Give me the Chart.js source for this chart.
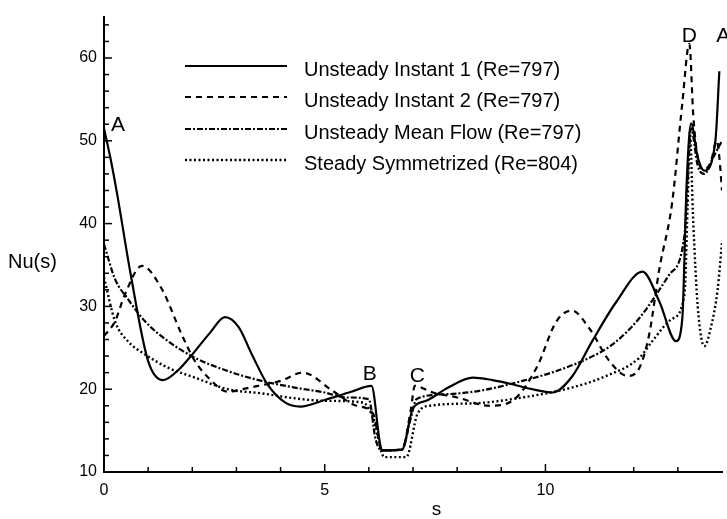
<!DOCTYPE html>
<html>
<head>
<meta charset="utf-8">
<script src="https://cdn.jsdelivr.net/npm/chart.js@4/dist/chart.umd.min.js"></script>
<style>
    html, body { margin: 0; padding: 0; background: #fff; }
    #wrap { width: 727px; height: 519px; }
</style>
</head>
<body>
<div id="wrap"><canvas id="nu-chart" width="727" height="519"></canvas></div>
<script>
// Nu(s) along the surface, four flow cases
const sInst1 = [0, 0.15, 0.3, 0.6, 1.0, 1.34, 1.7, 2.0, 2.4, 2.74, 3.05, 3.35, 3.7, 4.1, 4.45, 5.0, 5.6, 6.06, 6.25, 6.3, 6.75, 7.0, 7.3, 7.8, 8.35, 8.8, 9.25, 9.7, 10.16, 10.6, 11.06, 11.6, 12.2, 12.58, 12.96, 13.1, 13.2, 13.3, 13.45, 13.6, 13.85, 13.94];
const nuInst1 = [51.5, 47.8, 43.5, 34, 23.4, 21.1, 22.4, 24.2, 26.8, 28.7, 27.5, 24.2, 20.6, 18.4, 17.9, 18.7, 19.7, 20.4, 13.5, 12.6, 12.7, 17.7, 18.6, 20.2, 21.4, 21.1, 20.6, 20.0, 19.6, 21.5, 25.8, 30.5, 34.2, 30.6, 25.8, 28.5, 45, 52.1, 48, 46.4, 50, 58.4];

const sInst2 = [0, 0.25, 0.47, 0.86, 1.31, 1.76, 2.06, 2.4, 2.8, 3.3, 4.0, 4.5, 5.18, 5.72, 6.1, 6.25, 6.3, 6.75, 6.95, 7.04, 7.45, 8.0, 8.73, 9.25, 9.8, 10.25, 10.6, 11.0, 11.45, 11.86, 12.13, 12.35, 12.58, 12.87, 13.1, 13.26, 13.35, 13.45, 13.6, 13.75, 13.88, 13.94, 14.0];
const nuInst2 = [26.4, 28.2, 31.4, 34.9, 32.1, 26.6, 23.4, 21.2, 19.7, 20.2, 21.0, 22, 19.8, 18, 17, 13.2, 12.6, 12.7, 17.5, 20.4, 19.6, 19.0, 18.0, 18.6, 22.6, 28.2, 29.5, 27.3, 23.4, 21.6, 22.6, 26.6, 34.5, 42.5, 54.5, 61.7, 53, 48, 46.5, 47.5, 50, 48, 44];

const sMean = [0, 0.25, 0.54, 0.93, 1.45, 2.06, 2.8, 3.57, 4.32, 5.0, 5.5, 6.0, 6.15, 6.3, 6.75, 6.95, 7.08, 7.76, 8.5, 9.48, 10.25, 11.0, 11.52, 12.13, 12.8, 13.15, 13.22, 13.3, 13.45, 13.6, 13.8, 14.0];
const nuMean = [37.5, 33.3, 30.9, 28.2, 25.8, 23.8, 22.2, 21, 20.2, 19.6, 19, 18.8, 14, 12.6, 12.7, 16.5, 18.8, 19.4, 19.8, 21, 22.2, 23.8, 25.4, 28.6, 33.8, 38.6, 45, 51.5, 47, 46, 48, 50];

const sSteady = [0, 0.25, 0.54, 0.93, 1.45, 2.06, 2.8, 3.57, 4.32, 5.0, 5.86, 6.1, 6.35, 6.85, 7.1, 7.38, 8.4, 9.48, 10.6, 11.38, 12.13, 12.42, 12.87, 13.15, 13.22, 13.27, 13.35, 13.45, 13.6, 13.75, 13.9, 14.0];
const nuSteady = [33.5, 28.2, 25.8, 24.2, 22.6, 21.4, 20, 19.5, 18.9, 18.6, 18.4, 16.5, 11.8, 11.8, 17, 18, 18.3, 19, 20.2, 21.6, 23.8, 25.8, 28.5, 31.5, 42, 51, 40, 30, 25.2, 27.5, 32, 37.7];

const seriesNames = [
    'Unsteady Instant 1 (Re=797)',
    'Unsteady Instant 2 (Re=797)',
    'Unsteady Mean Flow (Re=797)',
    'Steady Symmetrized (Re=804)'
];
const seriesDash = [[], [6, 5], [6, 2, 2, 2], [2, 2.5]];
const seriesWidth = [2.2, 2.2, 2.2, 2.4];

const xTicks = [0, 5, 10];
const xMinor = [1, 2, 3, 4, 6, 7, 8, 9, 11, 12, 13];
const yTicks = [10, 20, 30, 40, 50, 60];
const yMinor = [12, 14, 16, 18, 22, 24, 26, 28, 32, 34, 36, 38, 42, 44, 46, 48, 52, 54, 56, 58, 62, 64];

// point labels A, B, C, D, A
const markLetters = ['A', 'B', 'C', 'D', 'A'];
const markS = [0.32, 6.02, 7.1, 13.26, 14.03];
const markNu = [51.9, 21.8, 21.6, 62.6, 62.6];

const FONT = '"Liberation Sans", Arial, Helvetica, sans-serif';

function toPoints(xs, ys) {
    return xs.map((x, i) => ({ x: x, y: ys[i] }));
}

const curves = [
    toPoints(sInst1, nuInst1),
    toPoints(sInst2, nuInst2),
    toPoints(sMean, nuMean),
    toPoints(sSteady, nuSteady)
];

const decorPlugin = {
    id: 'decor',
    afterDraw(chart) {
        const ctx = chart.ctx;
        const xs = chart.scales.x;
        const ys = chart.scales.y;
        const area = chart.chartArea;
        ctx.save();
        ctx.strokeStyle = '#000';
        ctx.lineWidth = 1.5;
        ctx.setLineDash([]);

        // ticks pointing inward
        const tick = (x1, y1, x2, y2) => {
            ctx.beginPath();
            ctx.moveTo(x1, y1);
            ctx.lineTo(x2, y2);
            ctx.stroke();
        };
        xTicks.forEach(v => { const p = xs.getPixelForValue(v); tick(p, area.bottom, p, area.bottom - 8); });
        xMinor.forEach(v => { const p = xs.getPixelForValue(v); tick(p, area.bottom, p, area.bottom - 5); });
        yTicks.forEach(v => { const p = ys.getPixelForValue(v); tick(area.left, p, area.left + 8, p); });
        yMinor.forEach(v => { const p = ys.getPixelForValue(v); tick(area.left, p, area.left + 5, p); });

        // axis titles
        ctx.fillStyle = '#000';
        ctx.font = '20px ' + FONT;
        ctx.textAlign = 'left';
        ctx.textBaseline = 'middle';
        ctx.fillText('Nu(s)', 8, 262);
        ctx.textAlign = 'center';
        ctx.font = '19px ' + FONT;
        ctx.fillText('s', xs.getPixelForValue(7.53), 510);

        // letters
        ctx.font = '21px ' + FONT;
        markLetters.forEach((t, i) => {
            ctx.fillText(t, xs.getPixelForValue(markS[i]), ys.getPixelForValue(markNu[i]));
        });

        // legend
        const lx0 = 185, lx1 = 287, tx = 304;
        const rowY = [66, 97, 129, 160];
        ctx.font = '20px ' + FONT;
        ctx.textAlign = 'left';
        ctx.textBaseline = 'alphabetic';
        seriesNames.forEach((name, i) => {
            ctx.lineWidth = seriesWidth[i];
            ctx.setLineDash(seriesDash[i]);
            ctx.beginPath();
            ctx.moveTo(lx0, rowY[i]);
            ctx.lineTo(lx1, rowY[i]);
            ctx.stroke();
            ctx.setLineDash([]);
            ctx.fillText(name, tx, rowY[i] + 10);
        });
        ctx.restore();
    }
};

new Chart(document.getElementById('nu-chart'), {
    type: 'line',
    data: {
        datasets: curves.map((pts, i) => ({
            label: seriesNames[i],
            data: pts,
            borderColor: '#000',
            borderWidth: seriesWidth[i],
            borderDash: seriesDash[i],
            pointRadius: 0,
            fill: false,
            cubicInterpolationMode: 'monotone'
        }))
    },
    options: {
        responsive: false,
        animation: false,
        devicePixelRatio: 1,
        layout: { padding: { left: 0, top: 10, right: 5, bottom: 0 } },
        plugins: {
            legend: { display: false },
            tooltip: { enabled: false }
        },
        scales: {
            x: {
                type: 'linear',
                min: 0,
                max: 14,
                afterBuildTicks: scale => { scale.ticks = xTicks.map(v => ({ value: v })); },
                afterFit: scale => { scale.height = 47; },
                grid: { display: false, drawTicks: false },
                border: { display: true, color: '#000', width: 2 },
                ticks: { color: '#000', font: { family: FONT, size: 16 }, padding: 9 }
            },
            y: {
                type: 'linear',
                min: 10,
                max: 65,
                afterBuildTicks: scale => { scale.ticks = yTicks.map(v => ({ value: v })); },
                afterFit: scale => { scale.width = 104; },
                grid: { display: false, drawTicks: false },
                border: { display: true, color: '#000', width: 2 },
                ticks: { color: '#000', font: { family: FONT, size: 16 }, padding: 7 }
            }
        }
    },
    plugins: [decorPlugin]
});
</script>
</body>
</html>
